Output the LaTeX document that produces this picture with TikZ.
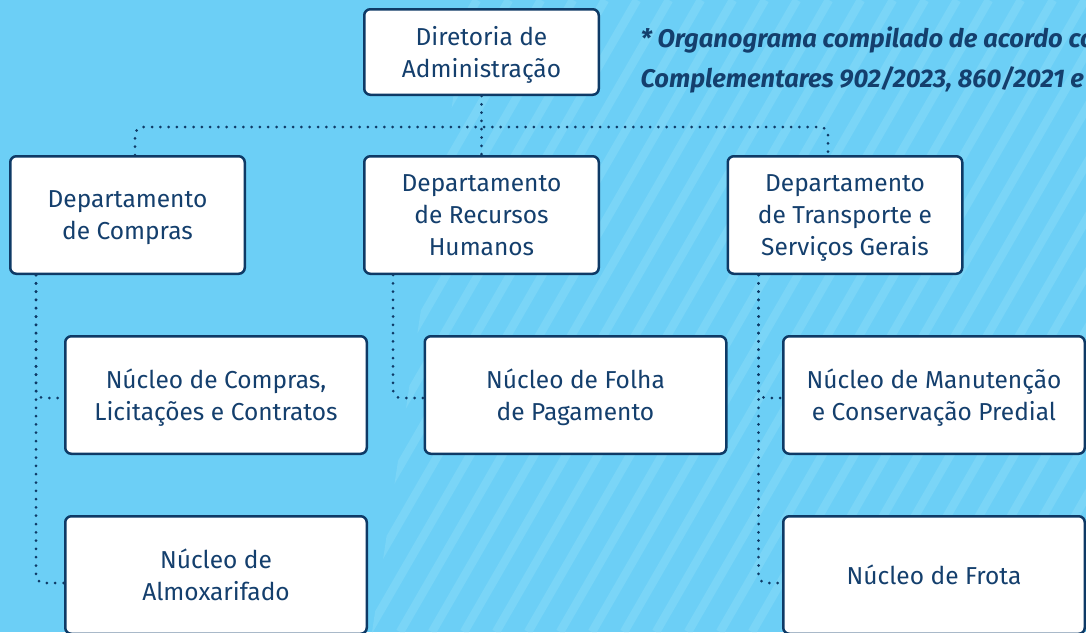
\documentclass[tikz,border=0pt]{standalone}
\usepackage{fontspec}
\setmainfont{Fira Sans}
\usepackage{tikz}
\usetikzlibrary{calc}
\usepackage{xcolor}

\definecolor{skyblue}{HTML}{6CCFF6}
\definecolor{stripeblue}{HTML}{7AD5F7}
\definecolor{navy}{HTML}{0E3A66}
\definecolor{inkblue}{HTML}{143F6D}

\tikzset{
  unit/.style={rectangle, rounded corners=6pt, draw=navy, line width=2.5pt, fill=white,
    text=inkblue, align=center, text depth=0pt, font=\fontsize{24.5}{32}\selectfont},
  dept/.style={unit, minimum width=234.5pt, minimum height=117.5pt},
  nucleo/.style={unit, minimum width=301.5pt, minimum height=117.5pt},
  link/.style={draw=navy, line width=3pt, line cap=round, dash pattern=on 0pt off 8.3pt, rounded corners=8pt}
}

\begin{document}
\begin{tikzpicture}[x=1pt,y=-1pt]
\useasboundingbox (0,0) rectangle (1086,632);
\fill [skyblue] (0,0) rectangle (1086,632);
\begin{scope}
\clip (468,0) -- (1086,0) -- (1086,632) -- (372,632) -- cycle;
\foreach \i in {0,...,50}
  \draw [stripeblue, line width=8.5pt] (\i*32-400,632) -- ++(365,-632);
\end{scope}

\node [unit, minimum width=234.5pt, minimum height=85.5pt] (dir) at (481.5,52) {Diretoria de\\Administração};
\node [dept] (dcomp) at (127.5,215) {Departamento\\de Compras};
\node [dept] (drh) at (481.5,215) {Departamento\\de Recursos\\Humanos};
\node [dept] (dtra) at (845,215) {Departamento\\de Transporte e\\Serviços Gerais};
\node [nucleo] (ncomp) at (216,395) {Núcleo de Compras,\\Licitações e Contratos};
\node [nucleo] (nfol) at (575.5,395) {Núcleo de Folha\\de Pagamento};
\node [nucleo] (nman) at (934,395) {Núcleo de Manutenção\\e Conservação Predial};
\node [nucleo] (nalm) at (216,575) {Núcleo de\\Almoxarifado};
\node [nucleo] (nfro) at (934,575) {Núcleo de Frota};

\node [anchor=west, align=left, text=inkblue, font=\fontsize{25.5}{40}\selectfont\bfseries\itshape] (note) at (637,60)
  {* Organograma compilado de acordo com\\Complementares 902/2023, 860/2021 e};

\coordinate (bus) at (481.5,127);
\draw [link] (dir.south) -- (drh.north);
\draw [link] ([xshift=7.5pt]dcomp.north) |- (bus) -| ([xshift=-17pt]dtra.north);
\draw [link] ([xshift=-91.5pt]dcomp.south) |- ([yshift=-8pt]nalm.west);
\draw [link] ([xshift=-91.5pt]dcomp.south) |- ([yshift=-3pt]ncomp.west);
\draw [link] ([xshift=-88.5pt]drh.south) |- ([yshift=-3pt]nfol.west);
\draw [link] ([xshift=-86.5pt]dtra.south) |- ([yshift=-8pt]nfro.west);
\draw [link] ([xshift=-86.5pt]dtra.south) |- ([yshift=-3pt]nman.west);
\end{tikzpicture}
\end{document}
